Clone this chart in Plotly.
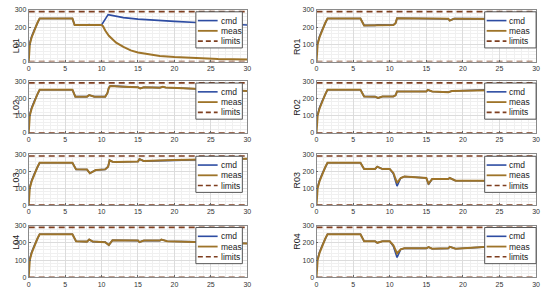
import plotly.graph_objects as go

# shared start-up ramp (s, value)
t_rise = [0, 0.05, 0.15, 0.4, 0.8, 1.2, 1.5]
meas_rise = [0, 50, 100, 140, 185, 225, 250]
cmd_rise = [85, 95, 110, 145, 187, 225, 250]

# after the ramp, per channel
t_L01 = [6.0, 6.3, 8.0, 8.3, 8.6, 10.0, 10.2, 10.5, 11, 11.5, 12, 13, 14, 15, 16, 17, 18, 20, 23, 26, 30]
meas_L01 = [250, 212, 212, 214, 211, 212, 205, 180, 150, 128, 110, 85, 65, 53, 45, 38, 33, 26, 19, 15, 12]
tc_L01 = [6.0, 6.3, 8.0, 8.3, 8.6, 10.0, 10.9, 12, 13, 15, 17, 20, 23, 26, 30]
cmd_L01 = [250, 212, 212, 214, 211, 212, 272, 262, 255, 246, 240, 233, 227, 220, 212]

t_L02 = [6.0, 6.4, 8.0, 8.3, 8.7, 9.0, 10.5, 10.8, 11.0, 11.2, 13, 15, 15.3, 15.8, 18, 18.4, 18.8, 22, 25, 30]
meas_L02 = [250, 210, 210, 219, 214, 210, 210, 230, 262, 272, 268, 264, 258, 264, 262, 267, 263, 258, 253, 243]

t_L03 = [6.0, 6.5, 8.0, 8.4, 9.2, 10.5, 10.9, 11.1, 11.5, 12, 15, 15.2, 15.8, 20, 25, 30]
meas_L03 = [250, 211, 210, 188, 207, 211, 227, 265, 256, 255, 258, 272, 260, 266, 270, 274]

t_L04 = [6.0, 6.5, 8.0, 8.3, 8.8, 10.5, 11.0, 11.5, 15.0, 15.2, 15.8, 18.0, 18.2, 19, 25, 30]
meas_L04 = [250, 209, 207, 219, 207, 204, 187, 215, 213, 204, 213, 213, 219, 209, 204, 196]

t_R01 = [6.0, 6.5, 8.0, 8.3, 10.5, 10.8, 11.0, 18.0, 18.2, 18.8, 30]
meas_R01 = [250, 210, 210, 214, 212, 223, 251, 248, 238, 249, 247]

t_R02 = [6.0, 6.5, 8.0, 8.4, 9.0, 10.5, 10.8, 11.0, 15.0, 15.2, 15.8, 18.0, 18.5, 25, 30]
meas_R02 = [250, 211, 210, 202, 211, 211, 218, 240, 240, 249, 240, 236, 243, 249, 258]

t_R03 = [6.0, 6.5, 8.0, 8.3, 9.0, 10.0, 10.5, 11.0, 11.5, 12.0, 15.0, 15.3, 15.8, 18.0, 18.2, 19, 25, 30]
meas_R03 = [250, 213, 213, 227, 213, 213, 190, 131, 160, 169, 160, 127, 154, 154, 160, 144, 144, 131]
cmd_R03 = [250, 213, 213, 227, 213, 213, 185, 112, 160, 169, 160, 122, 154, 154, 160, 144, 144, 131]

t_R04 = [6.0, 6.5, 8.0, 8.3, 9.0, 10.0, 10.5, 11.0, 11.5, 12.0, 15.0, 15.3, 15.8, 18.0, 18.2, 19, 25, 30]
meas_R04 = [250, 209, 209, 200, 209, 209, 185, 138, 162, 168, 168, 175, 166, 168, 177, 166, 181, 200]
cmd_R04 = [250, 209, 209, 200, 209, 209, 180, 115, 162, 168, 168, 175, 166, 168, 177, 166, 181, 200]

limit_lo, limit_hi = 0, 290
t_end = 30

channels = [
    # name, col, row, t meas, meas, t cmd, cmd
    ("L01", 0, 0, t_L01, meas_L01, tc_L01, cmd_L01),
    ("L02", 0, 1, t_L02, meas_L02, t_L02, meas_L02),
    ("L03", 0, 2, t_L03, meas_L03, t_L03, meas_L03),
    ("L04", 0, 3, t_L04, meas_L04, t_L04, meas_L04),
    ("R01", 1, 0, t_R01, meas_R01, t_R01, meas_R01),
    ("R02", 1, 1, t_R02, meas_R02, t_R02, meas_R02),
    ("R03", 1, 2, t_R03, meas_R03, t_R03, cmd_R03),
    ("R04", 1, 3, t_R04, meas_R04, t_R04, cmd_R04),
]

W, H = 550, 293
CMD_COL = "#2d4ca2"
MEAS_COL = "#9e7429"
LIM_COL = "#7e3e1f"
FONT = "Liberation Sans"
LIM_DASH = "6px,4px"

# plot boxes in pixels
col_px = [(27, 248), (318, 540)]
row_px = [(6, 59), (79, 132), (154, 206), (227, 280)]
leg_px = [(196, 243), (488, 540)]  # legend box left/right per column

fig = go.Figure()
shapes = []
annotations = []

for i, (name, col, row, tm, ym, tc, yc) in enumerate(channels):
    n = "" if i == 0 else str(i + 1)
    xa, ya = "x" + n, "y" + n
    x0, x1 = col_px[col]
    y0, y1 = row_px[row]

    fig.add_trace(go.Scatter(x=t_rise + tc, y=cmd_rise + yc, mode="lines",
                             line=dict(color=CMD_COL, width=1.6),
                             xaxis=xa, yaxis=ya, showlegend=False))
    fig.add_trace(go.Scatter(x=t_rise + tm, y=meas_rise + ym, mode="lines",
                             line=dict(color=MEAS_COL, width=2),
                             xaxis=xa, yaxis=ya, showlegend=False))
    fig.add_trace(go.Scatter(x=[0, t_end, None, 0, t_end],
                             y=[limit_hi, limit_hi, None, limit_lo, limit_lo],
                             mode="lines", line=dict(color=LIM_COL, width=1.7, dash=LIM_DASH),
                             xaxis=xa, yaxis=ya, showlegend=False))

    axis_common = dict(showline=True, linecolor="#8a8a8a", linewidth=0.8, mirror=True,
                       showgrid=True, gridcolor="#dcdcdc", gridwidth=0.6,
                       ticks="inside", ticklen=2, tickcolor="#666",
                       tickfont=dict(size=7, color="#333", family=FONT),
                       zeroline=False)
    fig.update_layout(**{
        ("xaxis" + n): dict(domain=[x0 / W, x1 / W], range=[0, 30], dtick=5,
                            anchor=ya,
                            minor=dict(dtick=1, showgrid=True, gridcolor="#f0f0f0", gridwidth=0.5),
                            **axis_common),
        ("yaxis" + n): dict(domain=[1 - y1 / H, 1 - y0 / H], range=[0, 300], dtick=100,
                            anchor=xa,
                            minor=dict(dtick=20, showgrid=True, gridcolor="#f0f0f0", gridwidth=0.5),
                            **axis_common),
    })

    # channel label
    annotations.append(dict(x=(x0 - 20) / W, y=1 - (y0 + y1) / 2 / H, xref="paper", yref="paper",
                            text=name, textangle=-90, showarrow=False,
                            font=dict(size=9, color="#222", family=FONT)))

    # legend box, drawn by hand to keep it compact
    lx0, lx1 = leg_px[col]
    ly0, ly1 = y0 + 2, y0 + 39
    shapes.append(dict(type="rect", xref="paper", yref="paper",
                       x0=lx0 / W, x1=lx1 / W, y0=1 - ly1 / H, y1=1 - ly0 / H,
                       line=dict(color="#555555", width=1), fillcolor="white", layer="above"))
    entries = [("cmd", CMD_COL, "solid", 1.6), ("meas", MEAS_COL, "solid", 1.8),
               ("limits", LIM_COL, "5px,3px", 1.6)]
    for k, (label, color, dash, lw) in enumerate(entries):
        ey = y0 + 11 + k * 10.5
        shapes.append(dict(type="line", xref="paper", yref="paper",
                           x0=(lx0 + 2) / W, x1=(lx0 + 22) / W, y0=1 - ey / H, y1=1 - ey / H,
                           line=dict(color=color, width=lw, dash=dash), layer="above"))
        annotations.append(dict(x=(lx0 + 24) / W, y=1 - ey / H, xref="paper", yref="paper",
                                text=label, showarrow=False, xanchor="left", yanchor="middle",
                                borderpad=0,
                                font=dict(size=8.5, color="#222", family=FONT)))

fig.update_layout(width=W, height=H, margin=dict(l=0, r=0, t=0, b=0),
                  paper_bgcolor="white", plot_bgcolor="white",
                  shapes=shapes, annotations=annotations)

# page has a default body margin; drop it so the figure sits at the window corner
fig.write_html("out.html", config={"displayModeBar": False},
               post_script="document.body.style.margin='0px';")
